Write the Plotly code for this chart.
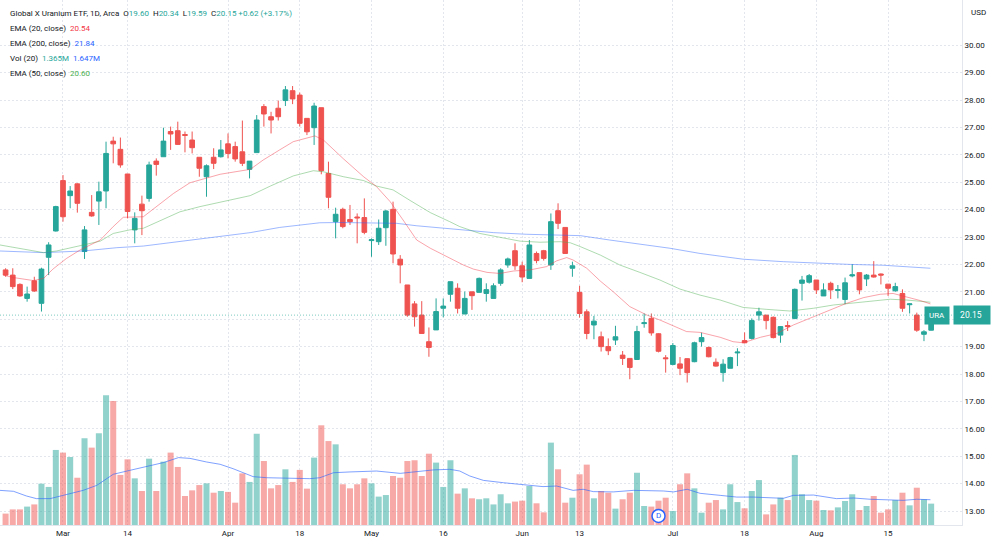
import plotly.graph_objects as go

# ---------------- data ----------------
bar_index = list(range(130))

opens = [21.80, 21.61, 21.27, 20.76, 21.40, 20.58, 22.26, 23.22, 25.06, 24.51,
         24.94, 22.47, 23.90, 24.31, 24.68, 26.50, 26.20, 25.30, 23.26, 24.20,
         24.41, 25.77, 25.93, 26.85, 26.88, 26.74, 26.54, 25.91, 25.20, 25.91,
         25.93, 26.40, 26.30, 26.11, 25.47, 26.08, 27.76, 27.39, 27.70, 27.98,
         28.34, 28.18, 27.33, 26.99, 27.72, 25.32, 23.56, 24.01, 23.64, 23.73,
         23.71, 22.87, 22.83, 23.34, 24.01, 22.19, 21.25, 20.56, 20.15, 19.18,
         19.61, 20.40, 20.91, 21.13, 20.19, 21.00, 20.98, 20.94, 20.76, 21.31,
         21.98, 22.50, 21.95, 21.49, 22.40, 22.50, 21.98, 23.96, 23.35, 21.86,
         20.98, 20.27, 19.79, 19.36, 19.00, 19.24, 18.69, 18.57, 18.53, 19.84,
         20.03, 19.47, 18.59, 18.35, 18.37, 18.56, 18.45, 19.18, 18.97, 18.43,
         18.05, 18.21, 18.77, 19.22, 19.30, 20.15, 20.15, 20.07, 19.42, 19.77,
         20.03, 21.31, 21.35, 21.43, 20.85, 21.31, 21.05, 20.72, 21.58, 21.70,
         21.47, 21.61, 21.65, 21.28, 21.04, 20.94, 20.53, 20.15, 19.45, 19.60]
highs = [21.86, 21.86, 21.31, 21.19, 21.55, 21.88, 22.81, 24.14, 25.26, 24.86,
         24.96, 23.40, 24.53, 25.02, 26.48, 26.66, 26.63, 25.30, 23.90, 24.51,
         25.75, 25.87, 26.99, 27.03, 27.21, 26.85, 26.85, 25.91, 25.65, 26.24,
         26.54, 26.78, 26.48, 27.25, 25.77, 27.45, 27.85, 27.57, 27.98, 28.51,
         28.51, 28.27, 27.33, 27.90, 27.72, 25.75, 24.07, 24.07, 24.17, 23.86,
         24.41, 22.95, 23.64, 23.99, 24.29, 22.34, 21.25, 20.66, 20.66, 19.70,
         20.76, 20.76, 21.37, 21.31, 21.01, 21.00, 21.52, 21.31, 21.31, 21.86,
         22.25, 22.77, 22.10, 22.89, 22.47, 22.53, 23.86, 24.23, 23.35, 22.10,
         21.22, 20.36, 20.12, 19.55, 19.30, 19.76, 18.84, 18.57, 19.76, 20.21,
         20.21, 19.49, 18.69, 19.13, 18.62, 18.57, 19.18, 19.51, 19.00, 18.57,
         18.54, 18.63, 18.94, 19.52, 20.03, 20.42, 20.15, 20.10, 19.75, 19.93,
         21.12, 21.58, 21.65, 21.43, 21.31, 21.37, 21.25, 21.52, 22.01, 21.70,
         21.65, 22.12, 21.67, 21.28, 21.33, 21.09, 20.58, 20.24, 19.60, 20.34]
lows = [21.55, 21.10, 20.82, 20.64, 21.00, 20.28, 21.61, 23.20, 23.56, 24.05,
        23.89, 22.20, 23.74, 23.44, 24.05, 25.69, 25.53, 23.68, 22.77, 23.07,
        24.29, 25.24, 25.93, 26.18, 26.36, 26.09, 26.05, 25.20, 24.47, 25.48,
        25.90, 25.87, 25.75, 25.59, 25.14, 26.08, 27.03, 26.78, 27.25, 27.78,
        27.85, 27.03, 26.72, 26.36, 25.29, 24.05, 22.95, 23.32, 23.44, 22.77,
        23.10, 22.28, 22.71, 22.68, 22.04, 21.31, 20.09, 19.73, 19.48, 18.63,
        19.61, 20.07, 20.64, 20.21, 20.19, 20.34, 20.98, 20.64, 20.76, 21.22,
        21.88, 21.80, 21.35, 21.49, 22.04, 22.14, 21.80, 23.29, 22.40, 21.55,
        20.06, 19.27, 19.27, 18.82, 18.69, 19.06, 18.33, 17.81, 18.53, 19.69,
        19.40, 18.79, 18.05, 18.32, 17.96, 17.69, 18.43, 19.00, 18.61, 18.27,
        17.72, 18.21, 18.29, 19.12, 19.26, 19.95, 19.63, 19.30, 19.14, 19.57,
        20.00, 20.68, 21.30, 20.92, 20.85, 20.74, 20.76, 20.55, 21.53, 20.91,
        21.21, 21.52, 21.27, 20.85, 21.00, 20.27, 20.21, 19.54, 19.20, 19.59]
closes = [21.61, 21.19, 20.85, 20.92, 21.03, 21.83, 22.71, 24.11, 23.74, 24.68,
          24.23, 23.26, 23.77, 24.65, 26.05, 26.40, 25.63, 23.93, 23.68, 23.96,
          25.63, 25.65, 26.50, 26.76, 26.38, 26.71, 26.26, 25.51, 25.60, 25.69,
          26.18, 26.05, 25.85, 25.69, 25.77, 27.27, 27.49, 27.27, 27.39, 28.37,
          28.04, 27.15, 26.84, 27.78, 25.42, 24.45, 23.83, 23.38, 23.56, 23.70,
          23.17, 22.90, 23.32, 23.95, 22.38, 21.98, 20.15, 20.09, 19.48, 18.97,
          20.28, 20.48, 21.37, 20.40, 20.76, 20.86, 21.49, 21.08, 21.22, 21.80,
          22.20, 21.95, 21.54, 22.71, 22.14, 22.22, 23.56, 23.50, 22.40, 21.95,
          20.21, 19.48, 19.93, 19.00, 18.85, 19.36, 18.57, 18.24, 19.55, 19.87,
          19.50, 18.83, 18.56, 19.04, 18.21, 18.05, 19.14, 19.33, 18.63, 18.29,
          18.36, 18.60, 18.80, 19.14, 19.95, 20.27, 19.95, 19.33, 19.73, 19.73,
          21.09, 21.43, 21.59, 21.07, 21.07, 21.07, 21.08, 21.33, 21.62, 21.07,
          21.61, 21.54, 21.61, 21.13, 21.19, 20.40, 20.56, 19.60, 19.54, 20.15]
volume_m = [0.73, 1.00, 1.00, 1.18, 1.32, 2.65, 2.44, 4.81, 4.64, 4.36,
            3.03, 5.56, 4.96, 5.88, 8.31, 7.95, 3.21, 4.21, 2.99, 2.18,
            4.25, 2.18, 4.06, 4.64, 3.72, 1.86, 2.22, 2.56, 2.67, 2.07,
            2.18, 2.12, 1.43, 3.31, 2.76, 5.85, 4.10, 2.35, 2.56, 3.57,
            2.76, 3.53, 2.33, 4.32, 6.39, 5.38, 5.17, 2.61, 2.35, 2.61,
            2.99, 2.67, 1.82, 1.92, 3.14, 3.03, 4.10, 4.15, 3.14, 4.57,
            4.00, 2.44, 4.15, 2.01, 2.35, 1.71, 1.65, 1.71, 1.32, 1.97,
            1.39, 1.50, 1.56, 2.50, 1.39, 0.81, 5.28, 3.57, 1.43, 1.75,
            3.25, 3.87, 1.71, 2.18, 2.07, 1.05, 1.65, 2.07, 3.35, 1.22,
            1.18, 1.56, 1.75, 0.90, 2.61, 3.31, 2.35, 0.79, 1.43, 1.60,
            1.00, 2.61, 1.47, 1.07, 2.18, 2.88, 0.68, 1.32, 1.75, 1.60,
            4.49, 1.97, 1.60, 1.56, 0.96, 0.94, 1.13, 1.54, 1.97, 0.96,
            1.22, 1.86, 0.79, 1.00, 1.60, 2.07, 1.26, 2.39, 1.65, 1.37]

ema20_x = [-0.3, 1.1, 3.9, 5.3, 6.6, 8.5, 10.4, 13.2, 15.0, 16.4, 19.2, 21.1, 23.4, 25.7,
           27.6, 29.9, 34.1, 35.9, 38.2, 40.1, 43.1, 44.3, 47.1, 49.9, 51.7, 53.6, 55.4,
           57.3, 59.2, 61.0, 63.8, 65.2, 67.1, 68.9, 70.8, 73.1, 75.4, 76.8, 78.2, 79.1,
           81.0, 82.9, 84.7, 87.0, 89.4, 91.2, 93.1, 94.9, 96.8, 99.6, 101.4, 102.8,
           105.2, 107.5, 109.8, 112.1, 114.5, 117.2, 119.6, 121.9, 123.7, 125.6, 127.5, 128.9]
ema20_v = [21.61, 21.52, 21.41, 21.49, 21.83, 22.22, 22.53, 22.89, 23.38, 23.72, 23.74, 24.11,
           24.59, 24.98, 25.12, 25.29, 25.47, 25.81, 26.18, 26.48, 26.69, 26.54, 25.85, 25.20,
           24.84, 24.29, 23.62, 22.89, 22.59, 22.34, 21.98, 21.83, 21.71, 21.67, 21.76, 21.80,
           21.92, 22.13, 22.25, 22.16, 21.86, 21.39, 21.00, 20.46, 20.15, 19.97, 19.75, 19.55,
           19.52, 19.34, 19.18, 19.14, 19.34, 19.48, 19.79, 20.03, 20.28, 20.58, 20.79, 20.91,
           20.94, 20.82, 20.68, 20.56]

ema50_x = [-0.8, 2.0, 5.3, 7.1, 10.8, 13.2, 15.0, 17.3, 19.2, 21.5, 24.3, 27.1, 29.9, 34.1,
           36.9, 40.1, 42.9, 44.3, 47.1, 49.9, 51.7, 54.0, 56.4, 59.2, 61.9, 63.3, 66.1,
           68.9, 71.7, 74.5, 77.3, 78.7, 80.1, 82.9, 85.6, 88.4, 91.2, 94.0, 96.8, 99.6,
           102.8, 106.1, 109.3, 112.6, 115.4, 117.7, 120.9, 123.3, 125.6, 127.5, 128.9]
ema50_v = [22.71, 22.59, 22.43, 22.49, 22.71, 22.85, 23.13, 23.26, 23.32, 23.58, 23.92, 24.11,
           24.27, 24.51, 24.86, 25.23, 25.42, 25.38, 25.20, 25.06, 24.86, 24.72, 24.33, 23.89,
           23.56, 23.38, 23.13, 22.98, 22.85, 22.81, 22.83, 22.79, 22.65, 22.34, 21.98, 21.71,
           21.43, 21.10, 20.88, 20.70, 20.43, 20.36, 20.30, 20.40, 20.52, 20.58, 20.68, 20.73,
           20.70, 20.64, 20.62]

ema200_x = [-0.8, 5.3, 10.8, 15.5, 19.2, 23.8, 28.0, 34.1, 38.2, 43.8, 46.6, 51.3, 54.5,
            57.3, 61.0, 64.7, 68.0, 72.6, 77.3, 80.1, 84.2, 88.4, 92.6, 96.8, 102.8, 108.4,
            113.1, 117.7, 122.3, 125.6, 128.9]
ema200_v = [22.49, 22.43, 22.49, 22.61, 22.67, 22.83, 22.95, 23.16, 23.35, 23.52, 23.53,
            23.52, 23.50, 23.41, 23.32, 23.23, 23.16, 23.10, 23.07, 23.05, 22.89, 22.73,
            22.59, 22.40, 22.19, 22.10, 22.04, 22.00, 21.97, 21.92, 21.86]

volma_x = [-0.8, 1.1, 2.9, 4.3, 6.2, 8.5, 10.8, 12.7, 15.0, 17.3, 20.1, 22.0, 24.1, 25.7,
           28.0, 29.9, 31.7, 34.5, 36.4, 38.7, 42.4, 43.8, 45.7, 48.0, 51.7, 55.0, 57.3,
           59.6, 61.9, 63.3, 64.7, 66.6, 69.4, 73.1, 74.9, 76.8, 79.1, 80.5, 81.9, 84.7,
           87.5, 91.7, 93.1, 95.0, 96.8, 99.6, 101.9, 104.2, 106.5, 108.4, 109.8, 112.6,
           115.8, 118.2, 120.5, 123.3, 125.1, 127.0, 128.9]
volma_v = [2.22, 2.16, 1.86, 1.69, 1.69, 1.97, 2.22, 2.54, 3.25, 3.50, 3.82, 4.00, 4.32, 4.27,
           4.04, 3.89, 3.61, 3.10, 3.03, 2.99, 2.97, 3.03, 3.35, 3.40, 3.46, 3.31, 3.42,
           3.53, 3.57, 3.46, 3.14, 2.86, 2.71, 2.56, 2.46, 2.50, 2.22, 2.29, 2.14, 2.12,
           2.22, 2.18, 2.12, 2.29, 2.03, 1.90, 1.79, 1.79, 1.75, 1.71, 1.90, 1.92,
           1.69, 1.73, 1.65, 1.60, 1.58, 1.65, 1.62]

tick_index = [8, 17, 31, 41, 51, 61, 72, 80, 93, 103, 113, 123]
tick_text = ["Mar", "14", "Apr", "18", "May", "16", "Jun", "13", "Jul", "18", "Aug", "15"]
price_ticks = list(range(13, 31))
last_price = 20.15
dividend_index = 91

# ---------------- styling ----------------
UP = "#26a69a"
DOWN = "#ef5350"
FONT = "Roboto"
TXT = "#131722"
GRID = "#e3e6ec"

vol_colors = ["rgba(38,166,154,0.5)" if c >= o else "rgba(239,83,80,0.5)"
              for o, c in zip(opens, closes)]

fig = go.Figure()

fig.add_trace(go.Bar(x=bar_index, y=volume_m, yaxis="y2", marker=dict(color=vol_colors, line=dict(width=0)),
                     width=0.84, hoverinfo="skip", showlegend=False))
fig.add_trace(go.Scatter(x=volma_x, y=volma_v, yaxis="y2", mode="lines",
                         line=dict(color="rgba(41,98,255,0.6)", width=1), hoverinfo="skip", showlegend=False))
fig.add_trace(go.Scatter(x=[dividend_index], y=[0.58], yaxis="y2", mode="markers+text", text=["D"],
                         textposition="middle center", textfont=dict(family=FONT, size=8, color="#2962ff"),
                         marker=dict(size=13, color="white", line=dict(color="#2962ff", width=1.5)),
                         hoverinfo="skip", showlegend=False))

fig.add_trace(go.Scatter(x=ema200_x, y=ema200_v, mode="lines",
                         line=dict(color="rgba(41,98,255,0.45)", width=1), hoverinfo="skip", showlegend=False))
fig.add_trace(go.Scatter(x=ema50_x, y=ema50_v, mode="lines",
                         line=dict(color="rgba(76,175,80,0.45)", width=1), hoverinfo="skip", showlegend=False))
fig.add_trace(go.Scatter(x=ema20_x, y=ema20_v, mode="lines",
                         line=dict(color="rgba(242,54,69,0.45)", width=1), hoverinfo="skip", showlegend=False))

fig.add_trace(go.Candlestick(x=bar_index, open=opens, high=highs, low=lows, close=closes,
                             increasing=dict(line=dict(color=UP, width=1), fillcolor=UP),
                             decreasing=dict(line=dict(color=DOWN, width=1), fillcolor=DOWN),
                             whiskerwidth=0, hoverinfo="skip", showlegend=False))

fig.add_shape(type="line", xref="paper", x0=0, x1=1, yref="y", y0=last_price, y1=last_price,
              line=dict(color="rgba(38,166,154,0.6)", width=1, dash="1px,2px"))

plot_w = 962.0
plot_h = 525.0

def px_x(p):
    return p / plot_w

def px_y(p):
    return 1 - p / plot_h

ann = []
col = "<span style='color:%s'>%s</span>"
line1 = ("Global X Uranium ETF, 1D, Arca  O" + col % (UP, "19.60") + "  H" + col % (UP, "20.34") +
         "  L" + col % (UP, "19.59") + "  C" + col % (UP, "20.15") + " " + col % (UP, "+0.62 (+3.17%)"))
legend_lines = [
    line1,
    "EMA (20, close)  " + col % ("#f23645", "20.54"),
    "EMA (200, close)  " + col % ("#2962ff", "21.84"),
    "Vol (20)  " + col % (UP, "1.365M") + "  " + col % ("#2962ff", "1.647M"),
    "EMA (50, close)  " + col % ("#4caf50", "20.60"),
]
for k, t in enumerate(legend_lines):
    ann.append(dict(text=t, xref="paper", yref="paper", x=px_x(8), y=px_y(13 + 15 * k),
                    xanchor="left", yanchor="middle", showarrow=False,
                    font=dict(family=FONT, size=8, color=TXT)))

ann.append(dict(text="USD", xref="paper", yref="paper", x=px_x(978), y=px_y(12),
                xanchor="center", yanchor="middle", showarrow=False,
                font=dict(family=FONT, size=8, color=TXT)))
ann.append(dict(text="URA", xref="paper", yref="y", x=px_x(950), y=last_price,
                xanchor="right", yanchor="middle", showarrow=False, bgcolor=UP, borderpad=4,
                font=dict(family=FONT, size=8, color="white")))
ann.append(dict(text="&nbsp;20.15&nbsp;&nbsp;", xref="paper", yref="y", x=px_x(953), y=last_price,
                xanchor="left", yanchor="middle", showarrow=False, bgcolor=UP, borderpad=4,
                font=dict(family=FONT, size=8.5, color="white")))

# the 20.00 label sits hidden under the last-price tag in the reference
price_labels = ["" if v == 20 else "%.2f" % v for v in price_ticks]

fig.update_layout(
    width=1000, height=545,
    margin=dict(l=0, r=38, t=0, b=20),
    paper_bgcolor="white", plot_bgcolor="white",
    font=dict(family=FONT, size=8, color=TXT),
    showlegend=False,
    boxgap=0.35, boxgroupgap=0,
    annotations=ann,
    xaxis=dict(range=[-0.78, 133.3], tickmode="array", tickvals=tick_index, ticktext=tick_text,
               showgrid=True, gridcolor=GRID, griddash="2px,2px", gridwidth=1, zeroline=False,
               showline=True, linecolor=GRID, ticks="", rangeslider=dict(visible=False),
               tickfont=dict(family=FONT, size=8, color=TXT)),
    yaxis=dict(side="right", range=[12.49, 31.65], tickmode="array", tickvals=price_ticks,
               ticktext=price_labels, showgrid=True, gridcolor=GRID,
               griddash="2px,2px", zeroline=False, showline=True, mirror=True, linecolor=GRID, ticks="",
               tickfont=dict(family=FONT, size=8, color=TXT)),
    yaxis2=dict(overlaying="y", range=[0, 33.65], visible=False, showgrid=False, zeroline=False),
)

fig.write_html("out.html")
